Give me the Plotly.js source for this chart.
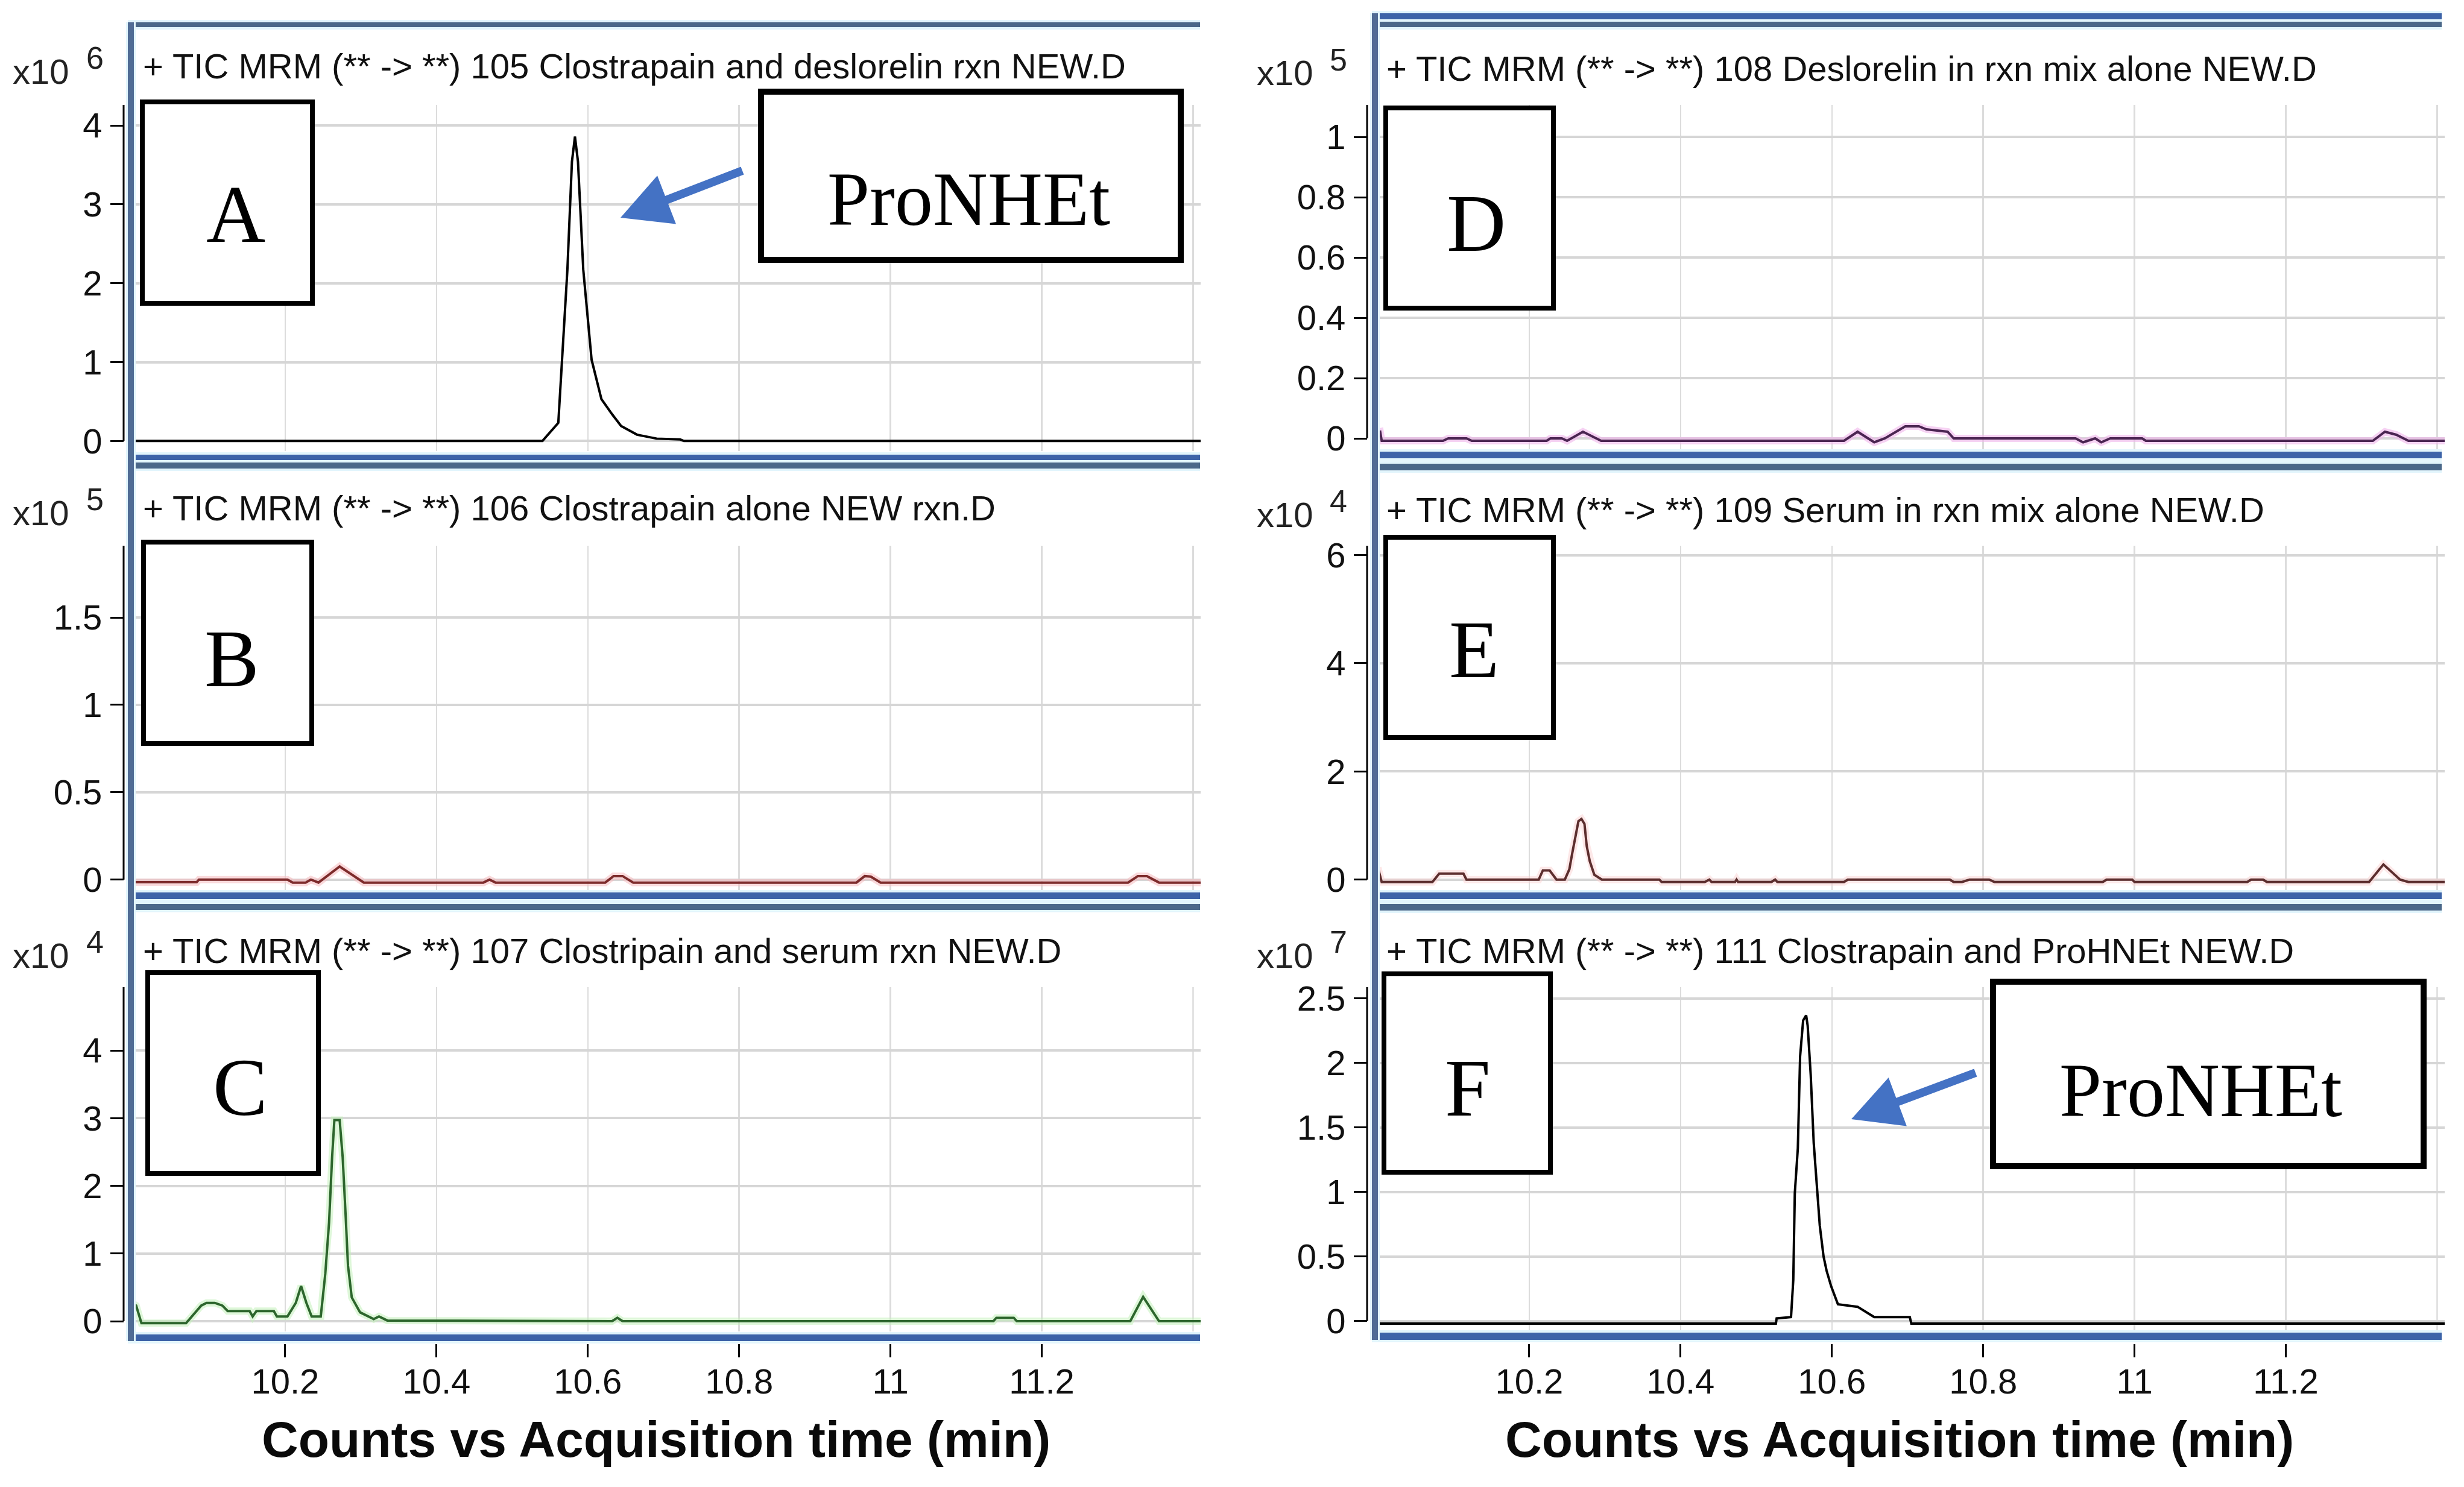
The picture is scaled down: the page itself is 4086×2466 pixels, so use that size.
<!DOCTYPE html>
<html>
<head>
<meta charset="utf-8">
<script src="https://cdn.plot.ly/plotly-3.0.1.min.js"></script>
<style>
  html, body { margin: 0; padding: 0; background: #ffffff; }
  #chart { width: 4086px; height: 2466px; }
</style>
</head>
<body>
<div id="chart"></div>
<script>
// ---- Chromatogram data: acquisition time (min) and counts (in units of 10^exp) ----

// A: 105 Clostrapain and deslorelin rxn
const timeA = [10.0, 10.54, 10.561, 10.573, 10.579, 10.583, 10.587, 10.594, 10.605, 10.618, 10.632, 10.644, 10.665, 10.691, 10.722, 10.727, 11.41];
const countsA = [0, 0, 0.23, 2.17, 3.54, 3.86, 3.54, 2.17, 1.03, 0.53, 0.34, 0.19, 0.08, 0.03, 0.02, 0, 0];
const expA = 6;

// B: 106 Clostrapain alone
const timeB = [10.0, 10.083, 10.086, 10.203, 10.21, 10.227, 10.234, 10.244, 10.272, 10.304, 10.462, 10.47, 10.478, 10.623, 10.634, 10.646, 10.66, 10.955, 10.966, 10.974, 10.987, 11.314, 11.327, 11.339, 11.355, 11.41];
const countsB = [-0.015, -0.015, 0, 0, -0.017, -0.017, 0, -0.017, 0.075, -0.017, -0.017, 0, -0.017, -0.017, 0.02, 0.02, -0.017, -0.017, 0.02, 0.017, -0.017, -0.017, 0.02, 0.02, -0.017, -0.017];
const expB = 5;

// C: 107 Clostripain and serum rxn
const timeC = [10.0, 10.003, 10.01, 10.069, 10.089, 10.096, 10.107, 10.117, 10.124, 10.153, 10.157, 10.162, 10.185, 10.189, 10.203, 10.214, 10.221, 10.228, 10.235, 10.247, 10.253, 10.258, 10.262, 10.265, 10.272, 10.276, 10.28, 10.283, 10.288, 10.299, 10.317, 10.324, 10.335, 10.632, 10.639, 10.646, 11.136, 11.14, 11.163, 11.167, 11.317, 11.334, 11.355, 11.41];
const countsC = [0.25, 0.23, -0.03, -0.03, 0.23, 0.27, 0.27, 0.23, 0.15, 0.15, 0.07, 0.15, 0.15, 0.07, 0.07, 0.27, 0.52, 0.27, 0.07, 0.07, 0.70, 1.46, 2.42, 2.97, 2.97, 2.42, 1.54, 0.82, 0.35, 0.13, 0.03, 0.07, 0.01, 0.0, 0.05, 0.0, 0.0, 0.05, 0.05, 0.0, 0.0, 0.36, 0.0, 0.0];
const expC = 4;

// D: 108 Deslorelin in rxn mix alone
const timeD = [10.0, 10.003, 10.005, 10.086, 10.093, 10.117, 10.124, 10.223, 10.228, 10.243, 10.25, 10.271, 10.295, 10.616, 10.634, 10.656, 10.67, 10.697, 10.715, 10.725, 10.753, 10.761, 10.922, 10.932, 10.948, 10.956, 10.968, 11.01, 11.015, 11.315, 11.331, 11.346, 11.362, 11.41];
const countsD = [0.02, 0.022, -0.008, -0.008, 0, 0, -0.008, -0.008, 0, 0, -0.008, 0.022, -0.008, -0.008, 0.022, -0.013, 0, 0.04, 0.04, 0.03, 0.022, 0, 0, -0.013, 0, -0.013, 0, 0, -0.008, -0.008, 0.022, 0.012, -0.008, -0.008];
const expD = 5;

// E: 109 Serum in rxn mix alone
const timeE = [10.0, 10.005, 10.072, 10.081, 10.113, 10.117, 10.2125, 10.218, 10.227, 10.236, 10.247, 10.253, 10.257, 10.261, 10.265, 10.269, 10.273, 10.276, 10.28, 10.286, 10.296, 10.372, 10.375, 10.432, 10.438, 10.441, 10.472, 10.474, 10.476, 10.52, 10.525, 10.528, 10.616, 10.621, 10.756, 10.761, 10.772, 10.782, 10.808, 10.815, 10.958, 10.963, 10.997, 11.0, 11.149, 11.154, 11.17, 11.175, 11.31, 11.329, 11.351, 11.362, 11.41];
const countsE = [0.22, -0.045, -0.045, 0.11, 0.11, 0, 0, 0.17, 0.17, 0, 0, 0.19, 0.50, 0.82, 1.08, 1.12, 1.03, 0.62, 0.34, 0.09, 0, 0, -0.045, -0.045, 0, -0.045, -0.045, 0, -0.045, -0.045, 0, -0.045, -0.045, 0, 0, -0.045, -0.045, 0, 0, -0.045, -0.045, 0, 0, -0.045, -0.045, 0, 0, -0.045, -0.045, 0.28, 0, -0.045, -0.045];
const expE = 4;

// F: 111 Clostrapain and ProHNEt
const timeF = [10.0, 10.526, 10.527, 10.546, 10.549, 10.551, 10.555, 10.558, 10.562, 10.566, 10.568, 10.572, 10.576, 10.581, 10.584, 10.589, 10.593, 10.599, 10.608, 10.634, 10.656, 10.703, 10.705, 11.41];
const countsF = [-0.02, -0.02, 0.02, 0.03, 0.32, 0.99, 1.34, 2.05, 2.33, 2.37, 2.29, 1.91, 1.38, 0.98, 0.74, 0.50, 0.39, 0.27, 0.13, 0.11, 0.03, 0.03, -0.02, -0.02];
const expF = 7;

// ---- Tick values and labels ----
const timeRange = [10.0, 11.41];
const xTickVals = [10.2, 10.4, 10.6, 10.8, 11, 11.2];
const xTickText = ['10.2', '10.4', '10.6', '10.8', '11', '11.2'];
const xGridVals = [10.2, 10.4, 10.6, 10.8, 11, 11.2, 11.4];
const yTicksA = [0, 1, 2, 3, 4];
const yTicksB = [0, 0.5, 1, 1.5];
const yTicksC = [0, 1, 2, 3, 4];
const yTicksD = [0, 0.2, 0.4, 0.6, 0.8, 1];
const yTicksE = [0, 2, 4, 6];
const yTicksF = [0, 0.5, 1, 1.5, 2, 2.5];

// ---- Text ----
const titleA = '+ TIC MRM (** -> **) 105 Clostrapain and deslorelin rxn NEW.D';
const titleB = '+ TIC MRM (** -> **) 106 Clostrapain alone NEW rxn.D';
const titleC = '+ TIC MRM (** -> **) 107 Clostripain and serum rxn NEW.D';
const titleD = '+ TIC MRM (** -> **) 108 Deslorelin in rxn mix alone NEW.D';
const titleE = '+ TIC MRM (** -> **) 109 Serum in rxn mix alone NEW.D';
const titleF = '+ TIC MRM (** -> **) 111 Clostrapain and ProHNEt NEW.D';
const productLabel = 'ProNHEt';
const xAxisLabel = 'Counts vs Acquisition time (min)';

// ---- Page geometry (pixels) ----
const W = 4086, H = 2466;
const fx = x => x / W;
const fy = y => 1 - y / H;

const SANS = 'Liberation Sans, Arial, sans-serif';
const SERIF = 'Liberation Serif, Times New Roman, serif';

const columns = [
  { plotLeft: 222, plotRight: 1991, axisX: 205, frameX: [212, 222], lineEnd: 1990,
    titleX: 235, x10Right: 117, expX: 157, xTitleX: 1088, frameTop: 37, frameBottom: 2224 },
  { plotLeft: 2285, plotRight: 4054, axisX: 2267, frameX: [2275, 2285], lineEnd: 4049,
    titleX: 2297, x10Right: 2180, expX: 2219, xTitleX: 3150, frameTop: 22, frameBottom: 2222 }
];

const panels = [
  { t: timeA, c: countsA, exp: expA, ticks: yTicksA, title: titleA, letter: 'A', col: 0,
    top: 174, bottom: 748, zeroY: 731.3, ppu: 130.8, titleY: 110,
    color: '#000000', halo: null, box: [236, 518, 169, 503], letterXY: [391, 355], bottomAxis: false },
  { t: timeB, c: countsB, exp: expB, ticks: yTicksB, title: titleB, letter: 'B', col: 0,
    top: 905, bottom: 1478, zeroY: 1458.7, ppu: 289.8, titleY: 842,
    color: '#7d2b2b', halo: 'rgba(245,185,190,0.55)', box: [238, 517, 899, 1233], letterXY: [384, 1092], bottomAxis: false },
  { t: timeC, c: countsC, exp: expC, ticks: yTicksC, title: titleC, letter: 'C', col: 0,
    top: 1637, bottom: 2208, zeroY: 2191, ppu: 112.25, titleY: 1576,
    color: '#2d662d', halo: 'rgba(195,240,185,0.55)', box: [245, 528, 1613, 1946], letterXY: [398, 1803], bottomAxis: true },
  { t: timeD, c: countsD, exp: expD, ticks: yTicksD, title: titleD, letter: 'D', col: 1,
    top: 174, bottom: 746, zeroY: 727, ppu: 500, titleY: 113,
    color: '#4b2552', halo: 'rgba(240,180,235,0.6)', box: [2298, 2576, 179, 511], letterXY: [2448, 370], bottomAxis: false },
  { t: timeE, c: countsE, exp: expE, ticks: yTicksE, title: titleE, letter: 'E', col: 1,
    top: 905, bottom: 1477, zeroY: 1458.7, ppu: 89.7, titleY: 845,
    color: '#5c2e2e', halo: 'rgba(250,205,205,0.45)', box: [2298, 2576, 891, 1223], letterXY: [2444, 1077], bottomAxis: false },
  { t: timeF, c: countsF, exp: expF, ticks: yTicksF, title: titleF, letter: 'F', col: 1,
    top: 1637, bottom: 2206, zeroY: 2190.7, ppu: 213.9, titleY: 1576,
    color: '#000000', halo: null, box: [2295, 2571, 1615, 1944], letterXY: [2434, 1804], bottomAxis: true }
];

const traces = [];
const layout = {
  width: W, height: H,
  margin: { l: 0, r: 0, t: 0, b: 0 },
  paper_bgcolor: '#ffffff',
  plot_bgcolor: '#ffffff',
  showlegend: false,
  font: { family: SANS, color: '#111111' },
  shapes: [],
  annotations: []
};

// ---- Frame bands around each column ----
const BLUE = '#3d63a8', SLATE = '#4b6889', VERT = '#506c95', GLOW = '#e2f5fc';
const frameBands = [
  [[37, 45, SLATE], [754, 763, BLUE], [767, 777, SLATE], [1480, 1491, BLUE], [1499, 1509, SLATE], [2213, 2224, BLUE]],
  [[22, 32, BLUE], [36, 45, SLATE], [749, 760, BLUE], [769, 780, SLATE], [1480, 1491, BLUE], [1499, 1510, SLATE], [2210, 2222, BLUE]]
];

function rectPx(x0, x1, y0, y1, fill) {
  return { type: 'rect', xref: 'paper', yref: 'paper', layer: 'above',
    x0: fx(x0), x1: fx(x1), y0: fy(y1), y1: fy(y0),
    fillcolor: fill, line: { width: 0 } };
}

panels.forEach((p, i) => {
  const n = i + 1;
  const xa = 'xaxis' + (n === 1 ? '' : n);
  const ya = 'yaxis' + (n === 1 ? '' : n);
  const xr = 'x' + (n === 1 ? '' : n);
  const yr = 'y' + (n === 1 ? '' : n);
  const col = columns[p.col];
  const yRange = [(p.zeroY - p.bottom) / p.ppu, (p.zeroY - p.top) / p.ppu];

  if (p.halo) {
    traces.push({ type: 'scatter', mode: 'lines', x: p.t, y: p.c, xaxis: xr, yaxis: yr,
      line: { color: p.halo, width: 12 }, hoverinfo: 'skip' });
  }
  traces.push({ type: 'scatter', mode: 'lines', x: p.t, y: p.c, xaxis: xr, yaxis: yr,
    line: { color: p.color, width: 4 }, hoverinfo: 'skip' });

  layout[xa] = {
    domain: [fx(col.plotLeft), fx(col.plotRight)],
    range: timeRange,
    anchor: p.bottomAxis ? 'free' : yr,
    tickmode: 'array',
    tickvals: p.bottomAxis ? xTickVals : xGridVals,
    ticktext: p.bottomAxis ? xTickText : xGridVals.map(String),
    showticklabels: p.bottomAxis,
    ticks: p.bottomAxis ? 'outside' : '',
    ticklen: 22, tickwidth: 3, tickcolor: '#000000',
    ticklabelstandoff: -10,
    tickfont: { family: SANS, size: 58, color: '#111111' },
    showgrid: true, gridcolor: '#dcdcdc', gridwidth: 2.5,
    zeroline: false, showline: false, fixedrange: true
  };
  if (p.bottomAxis) layout[xa].position = fy(2228);

  layout[ya] = {
    domain: [fy(p.bottom), fy(p.top)],
    range: yRange,
    anchor: 'free',
    position: fx(col.axisX),
    side: 'left',
    tickmode: 'array',
    tickvals: p.ticks,
    ticktext: p.ticks.map(String),
    ticks: 'outside', ticklen: 22, tickwidth: 3, tickcolor: '#000000',
    ticklabelstandoff: 2,
    tickfont: { family: SANS, size: 58, color: '#111111' },
    showgrid: true, gridcolor: '#d6d6d6', gridwidth: 4,
    zeroline: false, showline: false, fixedrange: true
  };

  // Vertical axis line runs from the top of the panel down to the zero tick
  layout.shapes.push({ type: 'line', xref: 'paper', yref: yr, layer: 'above',
    x0: fx(col.axisX), x1: fx(col.axisX), y0: 0, y1: yRange[1],
    line: { color: '#000000', width: 3 } });

  // Last grid column at 11.4 on panels whose axis carries labels
  if (p.bottomAxis) {
    layout.shapes.push({ type: 'line', xref: xr, yref: yr + ' domain', layer: 'below',
      x0: xGridVals[xGridVals.length - 1], x1: xGridVals[xGridVals.length - 1], y0: 0, y1: 1,
      line: { color: '#dcdcdc', width: 2.5 } });
  }

  // Panel title and scale factor
  layout.annotations.push({ xref: 'paper', yref: 'paper', x: fx(col.titleX), y: fy(p.titleY),
    xanchor: 'left', yanchor: 'middle', showarrow: false, text: p.title,
    font: { family: SANS, size: 58, color: '#111111' } });
  layout.annotations.push({ xref: 'paper', yref: 'paper', x: fx(col.x10Right), y: fy(p.titleY + 8),
    xanchor: 'right', yanchor: 'middle', showarrow: false, text: 'x10',
    font: { family: SANS, size: 58, color: '#222222' } });
  layout.annotations.push({ xref: 'paper', yref: 'paper', x: fx(col.expX), y: fy(p.titleY - 14),
    xanchor: 'center', yanchor: 'middle', showarrow: false, text: String(p.exp),
    font: { family: SANS, size: 52, color: '#222222' } });

  // Panel letter in a boxed label
  const b = p.box;
  layout.shapes.push({ type: 'rect', xref: 'paper', yref: 'paper', layer: 'above',
    x0: fx(b[0]), x1: fx(b[1]), y0: fy(b[3]), y1: fy(b[2]),
    fillcolor: '#ffffff', line: { color: '#000000', width: 8 } });
  layout.annotations.push({ xref: 'paper', yref: 'paper', x: fx(p.letterXY[0]), y: fy(p.letterXY[1]),
    xanchor: 'center', yanchor: 'middle', showarrow: false, text: p.letter,
    font: { family: SERIF, size: 136, color: '#000000' } });
});

// Frame lines for both columns
columns.forEach((col, ci) => {
  const bands = frameBands[ci];
  bands.forEach(([y0, y1]) => {
    layout.shapes.push(rectPx(col.frameX[0], col.lineEnd, y0 - 4, y1 + 4, GLOW));
  });
  bands.forEach(([y0, y1, color]) => {
    layout.shapes.push(rectPx(col.frameX[0], col.lineEnd, y0, y1, color));
  });
  layout.shapes.push(rectPx(col.frameX[0] - 3, col.frameX[1] + 3, col.frameTop, col.frameBottom, GLOW));
  layout.shapes.push(rectPx(col.frameX[0], col.frameX[1], col.frameTop, col.frameBottom, VERT));

  layout.annotations.push({ xref: 'paper', yref: 'paper', x: fx(col.xTitleX), y: fy(2387),
    xanchor: 'center', yanchor: 'middle', showarrow: false, text: '<b>' + xAxisLabel + '</b>',
    font: { family: SANS, size: 84, color: '#0a0a0a' } });
});

// Product callouts: box, label and arrow pointing at the peak
const callouts = [
  { box: [1262, 1958, 152, 431], textXY: [1606, 331], tail: [1231, 283], tip: [1029, 361] },
  { box: [3305, 4019, 1628, 1934], textXY: [3649, 1808], tail: [3276, 1779], tip: [3070, 1856] }
];

function arrowPath(tail, tip, headLen, headHalf, shaftHalf) {
  const dx = tip[0] - tail[0], dy = tip[1] - tail[1];
  const len = Math.hypot(dx, dy);
  const ux = dx / len, uy = dy / len;
  const nx = -uy, ny = ux;
  const bx = tip[0] - ux * headLen, by = tip[1] - uy * headLen;
  const pts = [
    [tail[0] + nx * shaftHalf, tail[1] + ny * shaftHalf],
    [bx + nx * shaftHalf, by + ny * shaftHalf],
    [bx + nx * headHalf, by + ny * headHalf],
    tip,
    [bx - nx * headHalf, by - ny * headHalf],
    [bx - nx * shaftHalf, by - ny * shaftHalf],
    [tail[0] - nx * shaftHalf, tail[1] - ny * shaftHalf]
  ];
  return 'M ' + pts.map(q => fx(q[0]) + ',' + fy(q[1])).join(' L ') + ' Z';
}

callouts.forEach(c => {
  layout.shapes.push({ type: 'rect', xref: 'paper', yref: 'paper', layer: 'above',
    x0: fx(c.box[0]), x1: fx(c.box[1]), y0: fy(c.box[3]), y1: fy(c.box[2]),
    fillcolor: '#ffffff', line: { color: '#000000', width: 10 } });
  layout.annotations.push({ xref: 'paper', yref: 'paper', x: fx(c.textXY[0]), y: fy(c.textXY[1]),
    xanchor: 'center', yanchor: 'middle', showarrow: false, text: productLabel,
    font: { family: SERIF, size: 126, color: '#000000' } });
  layout.shapes.push({ type: 'path', xref: 'paper', yref: 'paper', layer: 'above',
    path: arrowPath(c.tail, c.tip, 82, 43, 7),
    fillcolor: '#4472c4', line: { width: 0 } });
});

Plotly.newPlot('chart', traces, layout, { staticPlot: true, displayModeBar: false });
</script>
</body>
</html>
